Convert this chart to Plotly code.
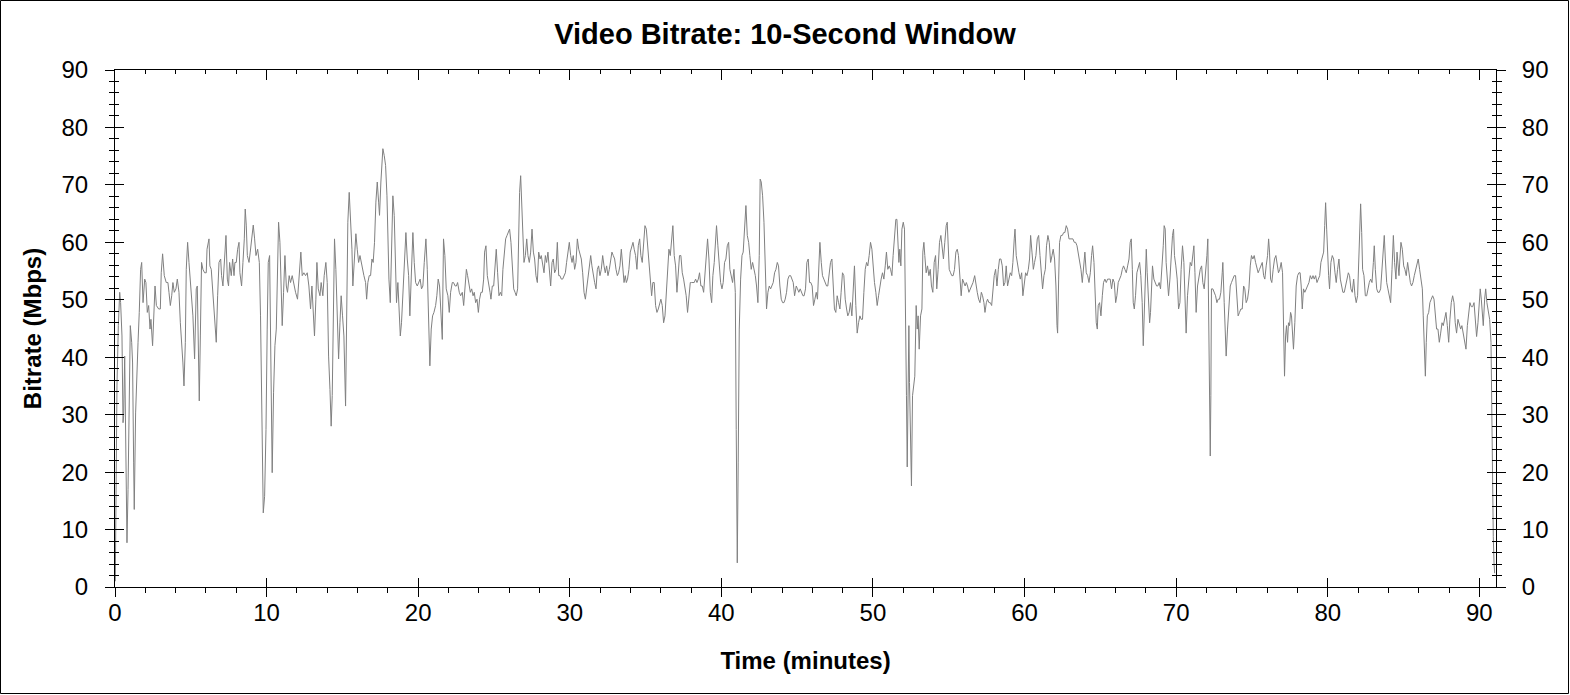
import plotly.graph_objects as go

# bitrate samples, grouped by ~11 minute stretches: (minute, Mbps)
seg_00_11 = [
    (0.02, 1), (0.13, 35), (0.22, 45.5), (0.31, 51.3), (0.37, 49.5), (0.46, 43.7), (0.53, 28.6), (0.57, 29.8),
    (0.64, 40.2), (0.73, 18.7), (0.79, 7.7), (0.86, 17), (0.95, 33), (1.01, 45.5), (1.10, 42.6), (1.16, 39),
    (1.23, 21.6), (1.27, 13.5), (1.36, 30.3), (1.45, 39.7), (1.52, 42.6), (1.60, 47.8), (1.69, 55.3), (1.76, 56.5),
    (1.85, 49.5), (1.96, 53.6), (2.04, 53), (2.13, 47.8), (2.22, 49), (2.31, 44.9), (2.37, 46.6), (2.48, 42),
    (2.57, 49.5), (2.64, 52.4), (2.73, 49), (2.88, 48.4), (2.99, 48.4), (3.05, 54.7), (3.14, 58), (3.25, 54.2),
    (3.38, 53), (3.49, 53), (3.56, 51.3), (3.65, 49), (3.74, 50.7), (3.82, 53), (3.91, 51.3), (4.02, 51.9),
    (4.11, 53.6), (4.22, 51.3), (4.31, 46), (4.40, 42.6), (4.48, 39), (4.55, 35), (4.64, 42.6), (4.70, 55.3),
    (4.79, 60), (4.88, 56.5), (4.97, 53), (5.05, 51.3), (5.14, 47.2), (5.25, 39.7), (5.36, 51.9), (5.43, 52.4),
    (5.49, 41.3), (5.56, 32.4), (5.63, 43.7), (5.71, 56.5), (5.80, 55.3), (5.91, 54.7), (6.02, 54.7), (6.07, 58.8),
    (6.20, 60.6), (6.26, 55.9), (6.35, 55.3), (6.44, 51.9), (6.53, 48.4), (6.62, 46), (6.68, 42.6), (6.77, 50.7),
    (6.86, 56.5), (6.97, 57.1), (7.03, 54.2), (7.12, 52.4), (7.23, 56.5), (7.32, 61.2), (7.41, 53.6), (7.49, 52.4),
    (7.56, 56.5), (7.67, 54.2), (7.76, 57.1), (7.85, 54.2), (7.91, 56.5), (8.00, 56.5), (8.09, 58.8), (8.18, 60),
    (8.24, 54.7), (8.35, 52.4), (8.44, 56.5), (8.53, 60.6), (8.59, 65.8), (8.66, 63), (8.73, 57.7), (8.84, 56.5),
    (8.92, 58.3), (9.03, 61.2), (9.12, 63), (9.21, 60.6), (9.30, 57.7), (9.41, 58.8), (9.52, 56.5), (9.60, 47.2),
    (9.69, 27.4), (9.78, 12.9), (9.87, 15.8), (9.96, 27.4), (10.04, 44.9), (10.11, 56.5), (10.20, 57.7), (10.29, 37.3),
    (10.37, 19.9), (10.46, 33.8), (10.55, 42), (10.64, 44.9), (10.75, 55.3), (10.79, 63.5), (10.88, 60), (10.97, 52.4),
    (11.03, 45.5), (11.12, 51.3),
]

seg_11_22 = [
    (11.21, 57.7), (11.30, 52.4), (11.38, 51.3), (11.49, 54.2), (11.58, 53), (11.69, 54.2), (11.80, 52.4), (11.91, 51.3),
    (12.04, 50.1), (12.15, 54.2), (12.26, 58.3), (12.35, 54.2), (12.46, 54.7), (12.57, 54.2), (12.68, 54.7), (12.79, 52.4),
    (12.90, 48.4), (12.99, 52.4), (13.08, 47.2), (13.16, 43.7), (13.25, 50.1), (13.32, 56.5), (13.41, 51.9), (13.52, 50.7),
    (13.60, 53), (13.71, 50.7), (13.80, 54.2), (13.91, 56.5), (14.00, 53), (14.09, 40.2), (14.18, 34.4), (14.26, 28),
    (14.33, 33.3), (14.40, 47.2), (14.48, 60.6), (14.57, 55.3), (14.66, 47.2), (14.75, 39.7), (14.84, 46), (14.92, 50.7),
    (15.01, 47.2), (15.10, 43.7), (15.21, 31.5), (15.30, 49.5), (15.36, 63.5), (15.45, 68.7), (15.54, 64.7), (15.63, 58.8),
    (15.69, 52.4), (15.78, 57.7), (15.89, 61.5), (15.98, 58.8), (16.07, 56.5), (16.16, 57.7), (16.24, 56.5), (16.33, 55.3),
    (16.42, 54.2), (16.53, 53), (16.60, 50.1), (16.68, 53), (16.77, 54.2), (16.86, 54.2), (16.95, 57.1), (17.03, 56.5),
    (17.12, 60), (17.21, 67), (17.30, 70.5), (17.39, 67), (17.45, 64.7), (17.54, 70.5), (17.61, 74.5), (17.67, 76.3),
    (17.76, 75.1), (17.85, 73.4), (17.94, 68.1), (18.00, 61.2), (18.07, 53.6), (18.16, 49.5), (18.24, 59.4), (18.33, 68.1),
    (18.42, 64.7), (18.49, 56.5), (18.57, 49.5), (18.66, 53), (18.75, 47.2), (18.82, 43.7), (18.90, 46), (18.99, 50.7),
    (19.08, 56.5), (19.19, 61.7), (19.28, 57.1), (19.37, 54.2), (19.45, 47.2), (19.54, 54.2), (19.65, 61.7), (19.74, 56.5),
    (19.83, 53), (19.94, 52.4), (20.02, 53), (20.13, 53.6), (20.22, 51.9), (20.31, 52.4), (20.40, 56.5), (20.51, 60.6),
    (20.60, 55.3), (20.68, 44.9), (20.77, 38.5), (20.86, 44.9), (20.95, 47.2), (21.04, 47.8), (21.15, 49), (21.23, 50.7),
    (21.32, 53.6), (21.41, 52.4), (21.50, 47.2), (21.59, 43.1), (21.67, 60.6), (21.76, 57.7), (21.85, 51.9), (21.96, 50.7),
    (22.05, 47.8), (22.14, 51.3), (22.25, 53), (22.33, 53), (22.44, 52.4),
]

seg_22_34 = [
    (22.52, 52.4), (22.60, 53), (22.71, 51.3), (22.80, 50.7), (22.91, 51.3), (23.00, 49), (23.09, 52.4), (23.18, 55.3),
    (23.26, 54.2), (23.35, 52.4), (23.44, 51.3), (23.53, 51.9), (23.62, 50.7), (23.70, 51.3), (23.79, 49.5), (23.88, 50.1),
    (23.97, 47.8), (24.05, 50.1), (24.14, 51.3), (24.23, 51.3), (24.32, 53.6), (24.38, 58.3), (24.47, 59.4), (24.56, 54.2),
    (24.65, 53), (24.74, 51.3), (24.80, 50.1), (24.89, 52.4), (24.98, 52.4), (25.07, 55.3), (25.15, 58.8), (25.24, 54.7),
    (25.33, 50.7), (25.42, 51.3), (25.51, 50.7), (25.59, 55.3), (25.68, 58.3), (25.77, 60.6), (25.86, 61.2), (25.95, 61.7),
    (26.03, 62.3), (26.12, 60), (26.21, 55.3), (26.30, 51.9), (26.39, 51.3), (26.47, 50.7), (26.56, 51.9), (26.63, 62.3),
    (26.69, 68.7), (26.76, 71.6), (26.83, 66.4), (26.89, 60.6), (26.98, 56.5), (27.07, 57.7), (27.16, 60.6), (27.24, 57.7),
    (27.33, 56.5), (27.42, 58.3), (27.51, 62.3), (27.60, 58.3), (27.68, 57.1), (27.77, 54.2), (27.86, 53), (27.95, 58.3),
    (28.04, 57.1), (28.12, 57.7), (28.21, 56.5), (28.30, 54.7), (28.39, 57.7), (28.47, 56.5), (28.56, 58.3), (28.65, 54.7),
    (28.74, 52.4), (28.83, 56.5), (28.91, 57.1), (29.00, 54.7), (29.09, 55.3), (29.18, 60), (29.27, 54.2), (29.35, 54.2),
    (29.44, 53.6), (29.53, 53.6), (29.62, 54.2), (29.71, 54.7), (29.79, 56.5), (29.88, 58.8), (29.97, 60), (30.06, 57.7),
    (30.15, 56.5), (30.23, 57.7), (30.32, 55.3), (30.41, 56.5), (30.50, 60.6), (30.59, 58.8), (30.67, 57.7), (30.76, 57.1),
    (30.85, 54.7), (30.94, 51.3), (31.03, 50.1), (31.11, 51.9), (31.20, 53.6), (31.29, 56.5), (31.38, 57.7), (31.46, 55.9),
    (31.55, 54.2), (31.64, 53), (31.73, 51.9), (31.82, 55.3), (31.90, 55.9), (31.99, 54.2), (32.08, 55.3), (32.17, 57.7),
    (32.26, 55.9), (32.34, 54.7), (32.43, 55.9), (32.52, 54.2), (32.61, 55.3), (32.70, 57.1), (32.78, 58.3), (32.87, 57.7),
    (32.96, 57.1), (33.05, 55.3), (33.14, 54.2), (33.22, 54.7), (33.31, 55.9), (33.40, 58.8), (33.49, 56.5), (33.58, 53),
    (33.66, 54.2),
]

seg_34_45 = [
    (33.73, 53), (33.81, 53.6), (33.90, 55.3), (33.99, 58.3), (34.08, 59.4), (34.17, 60), (34.25, 58.8), (34.34, 57.7),
    (34.43, 55.3), (34.52, 59.4), (34.61, 60.6), (34.69, 57.7), (34.78, 56.5), (34.87, 60), (34.96, 62.9), (35.05, 62.3),
    (35.13, 59.4), (35.22, 56.5), (35.31, 53), (35.40, 50.7), (35.48, 53), (35.57, 53), (35.66, 49), (35.75, 47.8),
    (35.84, 48.4), (35.93, 49.5), (36.01, 50.1), (36.10, 49), (36.19, 46), (36.28, 47.2), (36.36, 50.7), (36.45, 54.7),
    (36.54, 58.8), (36.63, 57.7), (36.72, 61.2), (36.80, 62.9), (36.89, 57.7), (36.98, 55.9), (37.07, 51.3), (37.16, 55.3),
    (37.24, 57.7), (37.33, 57.7), (37.42, 54.7), (37.51, 53.6), (37.60, 51.9), (37.68, 50.7), (37.77, 47.8), (37.86, 50.7),
    (37.95, 53), (38.04, 53), (38.12, 53), (38.21, 53), (38.30, 53.6), (38.39, 53), (38.48, 53.6), (38.56, 54.7),
    (38.65, 52.4), (38.74, 52.4), (38.83, 51.3), (38.92, 54.2), (39.00, 57.7), (39.09, 60.6), (39.18, 57.1), (39.27, 51.3),
    (39.36, 49.5), (39.44, 54.2), (39.53, 56.5), (39.62, 60.6), (39.68, 62.9), (39.77, 59.4), (39.86, 55.3), (39.95, 53),
    (40.04, 51.9), (40.12, 53), (40.21, 56.5), (40.30, 57.1), (40.39, 59.4), (40.48, 60), (40.56, 55.3), (40.65, 54.2),
    (40.74, 53), (40.83, 55.3), (40.92, 51.3), (40.98, 27.4), (41.05, 4.2), (41.11, 21.6), (41.18, 44.9), (41.27, 53.6),
    (41.36, 57.7), (41.44, 58.3), (41.53, 62.3), (41.62, 66.4), (41.71, 61.2), (41.80, 60), (41.88, 57.7), (41.97, 55.3),
    (42.06, 56.5), (42.15, 55.3), (42.24, 54.2), (42.32, 52.4), (42.41, 49.5), (42.50, 57.7), (42.56, 71), (42.63, 70.5),
    (42.72, 68.1), (42.81, 63.5), (42.89, 55.3), (42.98, 48.4), (43.07, 51.3), (43.16, 52.4), (43.25, 51.9), (43.33, 52.4),
    (43.42, 53), (43.51, 54.7), (43.60, 55.3), (43.69, 56.5), (43.77, 55.9), (43.86, 52.4), (43.95, 50.1), (44.04, 49.5),
    (44.13, 49.5), (44.21, 50.1), (44.30, 51.3), (44.39, 53.6), (44.48, 54.2), (44.57, 54.2), (44.66, 53.6), (44.74, 53),
    (44.83, 50.7),
]

seg_45_56 = [
    (44.94, 52.4), (45.02, 51.9), (45.11, 51.3), (45.20, 51.9), (45.29, 51.3), (45.38, 50.7), (45.46, 50.7), (45.55, 51.9),
    (45.64, 56.5), (45.73, 57.1), (45.82, 53), (45.90, 53), (45.99, 52.4), (46.08, 49), (46.17, 50.1), (46.26, 51.3),
    (46.34, 50.1), (46.43, 57.7), (46.50, 60), (46.59, 56.5), (46.67, 54.2), (46.76, 53.6), (46.85, 53), (46.94, 52.4),
    (47.02, 52.4), (47.11, 54.2), (47.20, 56.5), (47.29, 57.1), (47.38, 53), (47.46, 48.4), (47.55, 47.8), (47.64, 50.7),
    (47.73, 49.5), (47.82, 48.4), (47.90, 51.3), (47.99, 54.7), (48.08, 54.2), (48.17, 50.1), (48.26, 48.4), (48.34, 47.2),
    (48.43, 47.8), (48.52, 49.5), (48.61, 47.2), (48.70, 53), (48.78, 55.9), (48.87, 49), (48.96, 44.2), (49.05, 46),
    (49.14, 47.2), (49.22, 46.6), (49.31, 46.6), (49.40, 51.3), (49.49, 55.3), (49.58, 56.5), (49.66, 55.9), (49.75, 57.7),
    (49.84, 60), (49.93, 58.8), (50.02, 55.3), (50.10, 53), (50.19, 51.3), (50.28, 49), (50.37, 50.7), (50.45, 52.4),
    (50.54, 53.6), (50.63, 54.7), (50.72, 53.6), (50.81, 55.9), (50.89, 58.3), (50.98, 55.3), (51.07, 55.9), (51.16, 55.3),
    (51.25, 54.2), (51.33, 57.7), (51.42, 60.6), (51.51, 64), (51.58, 64), (51.64, 58.8), (51.71, 56.5), (51.77, 58.8),
    (51.84, 55.9), (51.91, 62.3), (52.00, 63.5), (52.08, 62.3), (52.15, 50.7), (52.21, 33.3), (52.26, 20.9), (52.32, 35.6),
    (52.37, 45.5), (52.41, 35.6), (52.48, 21.6), (52.54, 17.6), (52.61, 33.3), (52.68, 35.6), (52.76, 36.7), (52.85, 49),
    (52.92, 44.9), (52.98, 47.2), (53.05, 41.4), (53.14, 47.2), (53.23, 48.4), (53.29, 58.3), (53.36, 60), (53.42, 57.7),
    (53.51, 54.7), (53.60, 55.9), (53.69, 54.2), (53.78, 55.3), (53.86, 52.4), (53.95, 51.3), (54.04, 56.5), (54.13, 57.7),
    (54.21, 51.9), (54.30, 55.3), (54.39, 60), (54.48, 61.2), (54.57, 59.4), (54.65, 57.1), (54.74, 60), (54.83, 62.9),
    (54.90, 63.5), (54.96, 60.6), (55.03, 55.3), (55.12, 54.7), (55.20, 54.2), (55.29, 54.2), (55.38, 55.3), (55.47, 58.3),
    (55.56, 58.8), (55.64, 57.7), (55.73, 54.2), (55.82, 50.7), (55.91, 53.6), (56.00, 53), (56.08, 52.4),
]

seg_56_67 = [
    (56.16, 53), (56.24, 52.4), (56.33, 51.3), (56.42, 51.9), (56.51, 52.4), (56.60, 53), (56.71, 54.2), (56.79, 52.4),
    (56.88, 51.3), (56.97, 50.1), (57.06, 49.5), (57.15, 51.3), (57.23, 50.7), (57.32, 49.5), (57.39, 47.8), (57.48, 49.5),
    (57.56, 50.1), (57.65, 49.5), (57.74, 49.5), (57.83, 49), (57.91, 51.3), (58.00, 54.2), (58.09, 55.3), (58.18, 52.4),
    (58.27, 55.3), (58.35, 57.1), (58.44, 57.1), (58.53, 55.9), (58.62, 52.4), (58.71, 53), (58.79, 55.9), (58.88, 52.4),
    (58.97, 53.6), (59.06, 54.7), (59.15, 54.2), (59.23, 56.5), (59.32, 60.6), (59.37, 62.3), (59.45, 57.7), (59.54, 55.9),
    (59.63, 54.7), (59.72, 53.6), (59.81, 54.7), (59.89, 50.7), (59.98, 53), (60.07, 54.7), (60.16, 54.2), (60.25, 55.3),
    (60.33, 57.1), (60.40, 61.2), (60.49, 58.3), (60.58, 55.3), (60.66, 56.5), (60.75, 57.7), (60.84, 60.6), (60.93, 61.2),
    (61.02, 57.7), (61.10, 54.7), (61.19, 51.9), (61.28, 54.2), (61.37, 55.3), (61.45, 59.4), (61.54, 61.2), (61.63, 60),
    (61.72, 56.5), (61.81, 57.7), (61.89, 58.8), (61.98, 57.1), (62.07, 52.4), (62.14, 45.5), (62.18, 44.2), (62.25, 53.6),
    (62.31, 60), (62.40, 61.2), (62.49, 61.2), (62.58, 61.7), (62.66, 61.7), (62.75, 62.9), (62.84, 62.3), (62.93, 60.6),
    (63.02, 60.6), (63.10, 60.6), (63.19, 60.6), (63.28, 60), (63.37, 60), (63.46, 59.4), (63.54, 58.3), (63.63, 57.1),
    (63.72, 55.3), (63.81, 53), (63.90, 56.5), (63.98, 58.3), (64.07, 54.7), (64.16, 54.2), (64.25, 53), (64.34, 54.7),
    (64.42, 57.7), (64.49, 59.4), (64.58, 56.5), (64.66, 49.5), (64.73, 46), (64.80, 44.9), (64.86, 49), (64.95, 49.5),
    (65.04, 47.2), (65.13, 50.7), (65.21, 53), (65.30, 53.6), (65.39, 53), (65.48, 53.6), (65.57, 53.6), (65.65, 53.6),
    (65.74, 51.9), (65.83, 53.6), (65.92, 53), (66.01, 49.5), (66.09, 50.7), (66.18, 53), (66.27, 53.6), (66.36, 54.2),
    (66.45, 55.3), (66.53, 55.9), (66.62, 55.3), (66.71, 54.7), (66.80, 55.9), (66.89, 57.1), (66.97, 60), (67.04, 60.6),
    (67.11, 55.3), (67.17, 49.5), (67.24, 48.4),
]

seg_67_78 = [
    (67.32, 50.7), (67.41, 54.7), (67.50, 55.9), (67.59, 56.5), (67.67, 54.2), (67.76, 49.5), (67.83, 42), (67.89, 47.2),
    (67.96, 55.3), (68.03, 58.8), (68.09, 54.7), (68.18, 49.5), (68.25, 46), (68.31, 47.8), (68.38, 54.7), (68.44, 55.9),
    (68.53, 53.6), (68.62, 53), (68.71, 52.4), (68.79, 52.4), (68.88, 53), (68.97, 51.9), (69.06, 55.3), (69.15, 59.4),
    (69.21, 62.9), (69.28, 62.3), (69.34, 56.5), (69.43, 52.4), (69.50, 50.7), (69.59, 53.6), (69.67, 58.3), (69.76, 61.2),
    (69.83, 62.3), (69.89, 57.7), (69.98, 55.9), (70.07, 53.6), (70.16, 48.4), (70.25, 49.5), (70.33, 55.3), (70.42, 59.4),
    (70.51, 56.5), (70.60, 48.4), (70.66, 44.2), (70.75, 50.7), (70.84, 54.7), (70.93, 56.5), (71.02, 55.9), (71.10, 57.7),
    (71.17, 59.4), (71.24, 54.7), (71.32, 47.8), (71.41, 52.4), (71.50, 54.2), (71.59, 55.3), (71.68, 55.9), (71.76, 53),
    (71.85, 51.9), (71.94, 54.2), (72.03, 57.7), (72.09, 60.6), (72.16, 47.2), (72.20, 33.3), (72.25, 22.8), (72.29, 33.3),
    (72.33, 51.9), (72.42, 51.9), (72.51, 51.3), (72.60, 50.7), (72.69, 49.5), (72.77, 50.1), (72.86, 50.1), (72.95, 51.3),
    (73.04, 54.7), (73.08, 56.5), (73.17, 49.5), (73.24, 42.6), (73.30, 40.2), (73.39, 44.9), (73.48, 49.5), (73.57, 52.4),
    (73.65, 53), (73.74, 53.6), (73.83, 54.2), (73.92, 54.2), (74.01, 51.3), (74.09, 47.2), (74.18, 47.8), (74.27, 48.4),
    (74.36, 48.4), (74.45, 52.4), (74.53, 51.9), (74.62, 49.5), (74.71, 50.1), (74.80, 51.9), (74.89, 55.9), (74.97, 57.7),
    (75.06, 57.1), (75.15, 57.7), (75.24, 56.5), (75.33, 55.3), (75.41, 54.7), (75.50, 55.3), (75.59, 55.9), (75.68, 56.5),
    (75.77, 54.2), (75.85, 53.6), (75.94, 55.9), (76.03, 57.7), (76.10, 60.6), (76.16, 58.3), (76.23, 53.6), (76.31, 53),
    (76.40, 55.3), (76.49, 57.1), (76.58, 57.7), (76.67, 55.9), (76.75, 54.7), (76.84, 55.3), (76.93, 56.5), (77.02, 54.7),
    (77.08, 46.6), (77.15, 36.7), (77.22, 43.7), (77.28, 45.5), (77.35, 42.6), (77.41, 46), (77.48, 45.5), (77.55, 47.8),
    (77.61, 47.2), (77.68, 44.2), (77.74, 41.4), (77.83, 46), (77.92, 52.4), (78.01, 54.2), (78.10, 54.7), (78.18, 54.7),
    (78.25, 52.4), (78.32, 48.4), (78.40, 51.9), (78.49, 51.3),
]

seg_78_91 = [
    (78.59, 51.9), (78.67, 52.4), (78.76, 53), (78.85, 54.2), (78.94, 53.6), (79.03, 54.2), (79.11, 53.6), (79.20, 54.2),
    (79.29, 53), (79.38, 53.6), (79.47, 54.2), (79.55, 56.5), (79.64, 57.7), (79.73, 58.3), (79.80, 62.9), (79.86, 66.9),
    (79.93, 62.3), (79.99, 57.7), (80.06, 54.2), (80.12, 51.9), (80.21, 56.5), (80.30, 57.7), (80.39, 57.1), (80.48, 54.7),
    (80.56, 53), (80.65, 55.3), (80.74, 57.1), (80.83, 53.6), (80.92, 52.4), (81.00, 51.3), (81.09, 51.3), (81.18, 52.4),
    (81.27, 53.6), (81.36, 54.7), (81.44, 54.2), (81.53, 51.9), (81.62, 51.3), (81.71, 53.6), (81.80, 50.7), (81.88, 49.5),
    (81.97, 50.7), (82.06, 56.5), (82.13, 62.9), (82.17, 66.7), (82.24, 61.7), (82.30, 55.3), (82.39, 54.2), (82.48, 50.7),
    (82.57, 50.7), (82.65, 51.9), (82.74, 53), (82.83, 53.6), (82.92, 53), (83.01, 56.5), (83.07, 59.4), (83.14, 55.3),
    (83.23, 51.9), (83.31, 51.3), (83.40, 51.3), (83.49, 51.9), (83.58, 55.3), (83.67, 59.4), (83.73, 61.2), (83.80, 57.1),
    (83.89, 53), (83.97, 51.9), (84.06, 50.7), (84.15, 49.5), (84.24, 55.3), (84.33, 61.2), (84.41, 56.5), (84.50, 53.6),
    (84.57, 58.3), (84.63, 56.5), (84.70, 54.2), (84.76, 57.1), (84.83, 60), (84.92, 58.8), (85.01, 55.9), (85.09, 55.3),
    (85.18, 54.2), (85.27, 56.5), (85.36, 54.7), (85.45, 53), (85.53, 52.4), (85.62, 53), (85.71, 54.2), (85.80, 55.3),
    (85.89, 56.5), (85.97, 57.1), (86.06, 55.3), (86.15, 53.6), (86.24, 51.9), (86.30, 47.2), (86.37, 42), (86.44, 36.7),
    (86.50, 42.6), (86.57, 47.2), (86.66, 47.8), (86.74, 49.5), (86.83, 50.1), (86.92, 50.7), (87.01, 50.1), (87.10, 47.2),
    (87.18, 44.9), (87.27, 44.9), (87.36, 42.6), (87.45, 44.2), (87.54, 46), (87.62, 45.5), (87.71, 46.6), (87.80, 47.8),
    (87.89, 45.5), (87.98, 42.6), (88.06, 46.6), (88.15, 49.5), (88.24, 50.7), (88.33, 49.5), (88.41, 46), (88.50, 44.2),
    (88.59, 46.6), (88.68, 45.5), (88.77, 44.9), (88.85, 45.5), (88.94, 44.2), (89.03, 42.6), (89.12, 41.4), (89.21, 45.5),
    (89.29, 47.8), (89.38, 49.5), (89.47, 48.8), (89.56, 48.8), (89.65, 49.5), (89.73, 47.2), (89.82, 43.6), (89.91, 46),
    (90.00, 50.1), (90.06, 51.9), (90.13, 50.1), (90.20, 46.6), (90.26, 45.5), (90.35, 50.1), (90.42, 51.9), (90.50, 49.5),
    (90.59, 47.8), (90.68, 46.6), (90.77, 42.6), (90.83, 27.4), (90.88, 12.9), (90.92, 8.8), (90.97, 4.2), (91.01, 2.4),
]

segments = [seg_00_11, seg_11_22, seg_22_34, seg_34_45, seg_45_56, seg_56_67, seg_67_78, seg_78_91]
minutes = [t for seg in segments for t, _ in seg]
mbps = [v for seg in segments for _, v in seg]

X_RANGE = [0, 91.1]
Y_RANGE = [0, 90]

W, H = 1570, 695
ML, MR, MT, MB = 115, 74, 70, 108

FONT = "Arial, Liberation Sans, sans-serif"
tick_font = dict(family=FONT, size=24, color="black")
title_font = dict(family=FONT, size=24, color="black", weight="bold")

fig = go.Figure()
fig.add_trace(go.Scatter(
    x=minutes, y=mbps, mode="lines",
    line=dict(color="#808080", width=1),
    hoverinfo="skip", showlegend=False,
))

# empty traces so the extra tick-only axes get drawn
for xa, ya in [("x2", "y"), ("x3", "y"), ("x", "y2"), ("x", "y3"), ("x", "y4")]:
    fig.add_trace(go.Scatter(x=[None], y=[None], xaxis=xa, yaxis=ya,
                             showlegend=False, hoverinfo="skip"))

base = dict(showgrid=False, zeroline=False, tickcolor="black", tickwidth=1,
            linecolor="black", linewidth=1, tickmode="linear", tick0=0, dtick=10)
minor_out = dict(ticks="outside", ticklen=5, dtick=2, tick0=0, tickcolor="black")
minor_in = dict(ticks="inside", ticklen=4, dtick=2, tick0=0, tickcolor="black")

fig.update_layout(
    width=W, height=H,
    margin=dict(l=ML, r=MR, t=MT, b=MB),
    paper_bgcolor="white", plot_bgcolor="white",
    showlegend=False,
    title=dict(text="Video Bitrate: 10-Second Window", x=0.5, xref="container",
               y=1 - 34 / H, yanchor="middle",
               font=dict(family=FONT, size=29, color="black", weight="bold")),
    xaxis=dict(base, range=X_RANGE, ticks="outside", ticklen=9, showline=True,
               minor=minor_out, tickfont=tick_font, ticklabelstandoff=-5,
               title=dict(text="Time (minutes)", font=title_font, standoff=27)),
    xaxis2=dict(base, range=X_RANGE, overlaying="x", anchor="y", side="bottom",
                ticks="inside", ticklen=9, showticklabels=False, showline=False),
    xaxis3=dict(base, range=X_RANGE, overlaying="x", anchor="y", side="top",
                ticks="inside", ticklen=10, showticklabels=False, showline=True,
                minor=minor_in),
    yaxis=dict(base, range=Y_RANGE, ticks="outside", ticklen=9, showline=True,
               minor=minor_out, tickfont=tick_font, ticklabelstandoff=12,
               title=dict(text="Bitrate (Mbps)", font=title_font, standoff=13)),
    yaxis2=dict(base, range=Y_RANGE, overlaying="y", anchor="x", side="left",
                ticks="inside", ticklen=9, showticklabels=False, showline=False,
                minor=minor_in),
    yaxis3=dict(base, range=Y_RANGE, overlaying="y", anchor="x", side="right",
                ticks="outside", ticklen=9, showticklabels=True, showline=True,
                minor=minor_out, tickfont=tick_font, ticklabelstandoff=11),
    yaxis4=dict(base, range=Y_RANGE, overlaying="y", anchor="x", side="right",
                ticks="inside", ticklen=9, showticklabels=False, showline=False,
                minor=minor_in),
)

# thin frame round the whole picture (pixel edges turned into paper units)
pw, ph = W - ML - MR, H - MT - MB
fig.add_shape(type="rect", xref="paper", yref="paper",
              x0=(0.5 - ML) / pw, x1=(W - 1.5 - ML) / pw,
              y0=(H - MB - (H - 1.5)) / ph, y1=(H - MB - 0.5) / ph,
              line=dict(color="black", width=1), layer="above")

fig.write_html("out.html", config={"displayModeBar": False},
               post_script="document.body.style.margin='0px';")
